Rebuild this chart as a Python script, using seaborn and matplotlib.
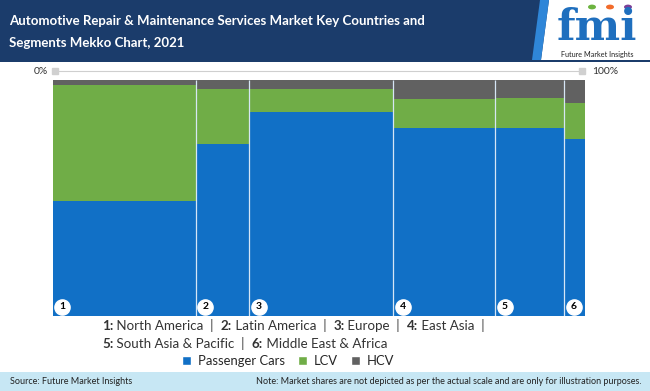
import numpy as np
import pandas as pd
import matplotlib
matplotlib.use("Agg")
import matplotlib.pyplot as plt
import seaborn as sns
from matplotlib.patches import Polygon, Rectangle, Patch, Circle

# data
regions = ["North America", "Latin America", "Europe", "East Asia",
           "South Asia & Pacific", "Middle East & Africa"]
region_share = [26.9, 10.0, 27.1, 19.1, 13.0, 3.9]   # column widths (%)
passenger_cars = [48.7, 72.9, 86.3, 79.7, 79.7, 75.2]
lcv = [49.2, 23.3, 9.9, 12.3, 12.7, 15.1]
hcv = [2.1, 3.8, 3.8, 8.0, 7.6, 9.7]
segments = ["Passenger Cars", "LCV", "HCV"]
colors = {"Passenger Cars": "#1170c6", "LCV": "#70ad47", "HCV": "#616161"}

edges = [0.0] + list(np.cumsum(region_share))
mids = [(a + b) / 2 for a, b in zip(edges[:-1], edges[1:])]

rows = []
for i, r in enumerate(regions):
    for seg, vals in zip(segments, [passenger_cars, lcv, hcv]):
        rows.append({"region": r, "x": mids[i], "segment": seg, "share": vals[i]})
df = pd.DataFrame(rows)

sns.set_style("white")
plt.rcParams["font.family"] = ["Lato", "DejaVu Sans"]

fig = plt.figure(figsize=(6.5, 3.91), dpi=100)
W, H = 650, 391

def fx(px):
    return px / W

def fy(py):
    return 1 - py / H

ax = fig.add_axes([fx(52.7), fy(316), fx(585) - fx(52.7), fy(80) - fy(316)])
sns.histplot(data=df, x="x", weights="share", hue="segment",
             hue_order=["HCV", "LCV", "Passenger Cars"], palette=colors,
             bins=edges, multiple="stack", linewidth=0, alpha=1,
             legend=False, ax=ax)
ax.set_xlim(0, 100)
ax.set_ylim(0, 100)
ax.set_xlabel("")
ax.set_ylabel("")
ax.set_xticks([])
ax.set_yticks([])
sns.despine(ax=ax, left=True, bottom=True)
ax.vlines(edges[1:-1], 0, 100, color="#d6e6f5", lw=0.9)

# numbered circles
for i in range(len(regions)):
    xc = edges[i] + 1.8
    ax.scatter([xc], [4.0], s=120, color="white", zorder=5, clip_on=False)
    ax.text(xc, 4.0, str(i + 1), ha="center", va="center", fontsize=7.5,
            fontweight="bold", color="black", zorder=6)

# top percent axis
ax.plot([0.5, 99.5], [103.8, 103.8], color="#cfcfcf", lw=0.8, clip_on=False)
ax.plot([0.5, 99.5], [103.8, 103.8], ls="none", marker="s", ms=4,
        color="#d0d0d0", clip_on=False)
fig.text(fx(48), fy(71), "0%", ha="right", va="center", fontsize=7.5, color="#333333")
fig.text(fx(592), fy(71), "100%", ha="left", va="center", fontsize=7.5, color="#333333")

# header banner
fig.patches.append(Polygon([[0, 1], [fx(549), 1], [fx(541), fy(60)], [0, fy(60)]],
                           closed=True, transform=fig.transFigure,
                           facecolor="#1b3c6b", edgecolor="none"))
fig.patches.append(Polygon([[fx(540), 1], [fx(549), 1], [fx(541), fy(60)], [fx(532), fy(60)]],
                           closed=True, transform=fig.transFigure,
                           facecolor="#2f86d8", edgecolor="none"))
fig.patches.append(Rectangle((0, fy(62)), 1, 2 / H, transform=fig.transFigure,
                             facecolor="#1b3c6b", edgecolor="none"))
fig.text(fx(9), fy(21), "Automotive Repair & Maintenance Services Market Key Countries and",
         color="white", fontsize=9.5, fontweight="bold", va="center", ha="left")
fig.text(fx(9), fy(43), "Segments Mekko Chart, 2021",
         color="white", fontsize=9.5, fontweight="bold", va="center", ha="left")

# logo
fig.text(fx(597), fy(28), "fmi", color="#1f6fbe", fontsize=31, fontweight="bold",
         family="DejaVu Serif", ha="center", va="center")
fig.text(fx(597), fy(54), "Future Market Insights", color="#222222", fontsize=5.2,
         ha="center", va="center")
for cx, c in [(592, "#6cb33f"), (610, "#f26b2a"), (628, "#7b3f98")]:
    fig.patches.append(Circle((fx(cx), fy(7)), 4 / W, transform=fig.transFigure,
                              facecolor=c, edgecolor="none"))

# region key with bold numbers
fig.canvas.draw()
renderer = fig.canvas.get_renderer()

def write_line(parts, x0, y0):
    x = x0
    for txt, bold in parts:
        t = fig.text(fx(x), fy(y0), txt, fontsize=9.6, color="#333333",
                     fontweight="bold" if bold else "normal", va="center", ha="left")
        bb = t.get_window_extent(renderer)
        x += bb.width

line1 = [("1:", True), (" North America  |  ", False), ("2:", True),
         (" Latin America  |  ", False), ("3:", True), (" Europe  |  ", False),
         ("4:", True), (" East Asia  |", False)]
line2 = [("5:", True), (" South Asia & Pacific  |  ", False), ("6:", True),
         (" Middle East & Africa", False)]
write_line(line1, 102, 326)
write_line(line2, 102, 344)

handles = [Patch(facecolor=colors[s], label=s) for s in segments]
fig.legend(handles=handles, loc="center", bbox_to_anchor=(fx(288), fy(361)),
           ncol=3, frameon=False, fontsize=9.4, handlelength=0.7, handleheight=0.7,
           handletextpad=0.5, columnspacing=1.0, borderpad=0)

# footer
fig.patches.append(Rectangle((0, 0), 1, fy(372), transform=fig.transFigure,
                             facecolor="#c7e7f4", edgecolor="none"))
fig.text(fx(10), fy(381.5), "Source: Future Market Insights", fontsize=6.5,
         color="#222222", va="center", ha="left")
fig.text(fx(642), fy(381.5),
         "Note: Market shares are not depicted as per the actual scale and are only for illustration purposes.",
         fontsize=6.5, color="#222222", va="center", ha="right")

fig.savefig("out.png", dpi=100)
